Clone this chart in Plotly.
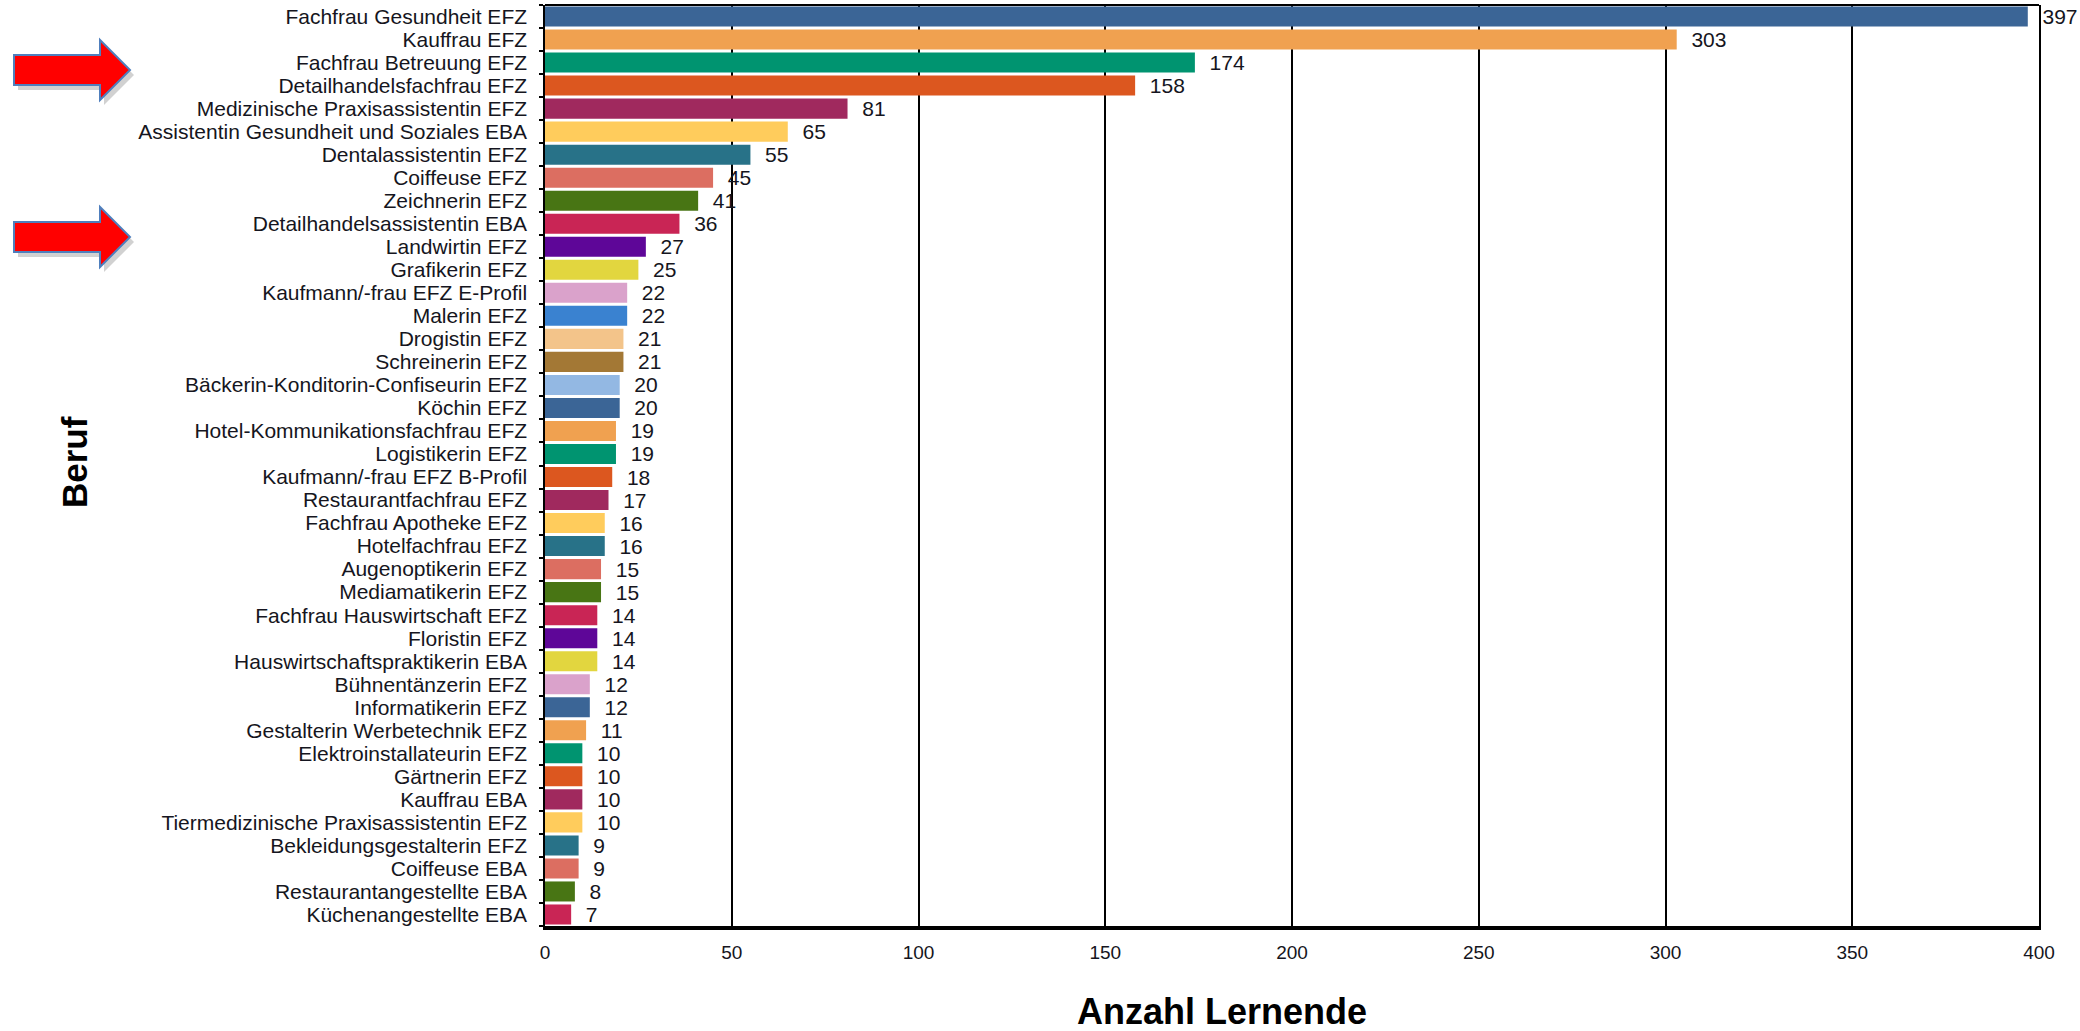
import plotly.graph_objects as go

categories = [
    "Fachfrau Gesundheit EFZ", "Kauffrau EFZ", "Fachfrau Betreuung EFZ",
    "Detailhandelsfachfrau EFZ", "Medizinische Praxisassistentin EFZ",
    "Assistentin Gesundheit und Soziales EBA", "Dentalassistentin EFZ",
    "Coiffeuse EFZ", "Zeichnerin EFZ", "Detailhandelsassistentin EBA",
    "Landwirtin EFZ", "Grafikerin EFZ", "Kaufmann/-frau EFZ E-Profil",
    "Malerin EFZ", "Drogistin EFZ", "Schreinerin EFZ",
    "Bäckerin-Konditorin-Confiseurin EFZ", "Köchin EFZ",
    "Hotel-Kommunikationsfachfrau EFZ", "Logistikerin EFZ",
    "Kaufmann/-frau EFZ B-Profil", "Restaurantfachfrau EFZ",
    "Fachfrau Apotheke EFZ", "Hotelfachfrau EFZ", "Augenoptikerin EFZ",
    "Mediamatikerin EFZ", "Fachfrau Hauswirtschaft EFZ", "Floristin EFZ",
    "Hauswirtschaftspraktikerin EBA", "Bühnentänzerin EFZ",
    "Informatikerin EFZ", "Gestalterin Werbetechnik EFZ",
    "Elektroinstallateurin EFZ", "Gärtnerin EFZ", "Kauffrau EBA",
    "Tiermedizinische Praxisassistentin EFZ", "Bekleidungsgestalterin EFZ",
    "Coiffeuse EBA", "Restaurantangestellte EBA", "Küchenangestellte EBA",
]
values = [397, 303, 174, 158, 81, 65, 55, 45, 41, 36, 27, 25, 22, 22, 21, 21,
          20, 20, 19, 19, 18, 17, 16, 16, 15, 15, 14, 14, 14, 12, 12, 11, 10,
          10, 10, 10, 9, 9, 8, 7]
x_ticks = [0, 50, 100, 150, 200, 250, 300, 350, 400]

palette = ["#3B6596", "#F0A150", "#009470", "#DC571F", "#A0295E", "#FFCC5C",
           "#287288", "#DC6E61", "#487514", "#C92555", "#5E0698", "#E2D63F",
           "#DAA2CB", "#3A82D0", "#F3C48A", "#A37835", "#93B8E3"]
color_idx = list(range(17)) + list(range(13)) + [0] + list(range(1, 10))
bar_colors = [palette[i] for i in color_idx]

W, H = 2080, 1031
L, R, T, B = 545, 41, 5, 105
PW, PH = W - L - R, H - T - B


def px(x):
    return (x - L) / PW


def py(y):
    return (H - B - y) / PH


fig = go.Figure(go.Bar(
    x=values, y=categories, orientation="h",
    marker=dict(color=bar_colors, line=dict(width=0)),
    text=values, texttemplate="\u00a0\u00a0%{x}", textposition="outside",
    textfont=dict(family="Liberation Sans", size=21, color="#151520"),
    constraintext="none", cliponaxis=False,
))

shapes = [dict(type="line", xref="paper", yref="paper", x0=0, x1=1, y0=1, y1=1,
               line=dict(color="black", width=2), layer="above")]


def arrow(cy, dx=0, dy=0, fill="red", line=None):
    pts = [(14, cy - 15), (100, cy - 15), (100, cy - 30), (130, cy), (100, cy + 30),
           (100, cy + 15), (14, cy + 15)]
    path = "M " + " L ".join(f"{px(x + dx):.5f},{py(y + dy):.5f}" for x, y in pts) + " Z"
    return dict(type="path", xref="paper", yref="paper", path=path,
                fillcolor=fill, line=line or dict(width=0), layer="above")


for cy in (70, 237):
    shapes.append(arrow(cy, 4, 5, fill="rgba(0,0,0,0.18)"))
    shapes.append(arrow(cy, fill="#FF0000", line=dict(color="#4F7FBD", width=2)))

annotations = [
    dict(text="<b>Anzahl Lernende</b>", xref="paper", yref="paper",
         x=px(1222), y=py(1011), xanchor="center", yanchor="middle",
         showarrow=False, font=dict(family="Liberation Sans", size=36, color="black")),
    dict(text="<b>Beruf</b>", xref="paper", yref="paper", textangle=-90,
         x=px(74), y=py(462), xanchor="center", yanchor="middle",
         showarrow=False, font=dict(family="Liberation Sans", size=35, color="black")),
]

fig.update_layout(
    width=W, height=H, margin=dict(l=L, r=R, t=T, b=B, autoexpand=False),
    paper_bgcolor="white", plot_bgcolor="white", showlegend=False,
    bargap=0.13, shapes=shapes, annotations=annotations,
    font=dict(family="Liberation Sans", color="#151520"),
    xaxis=dict(range=[0, 400], tickvals=x_ticks, showgrid=True,
               gridcolor="black", gridwidth=1.6, zeroline=False,
               showline=True, linecolor="black", linewidth=4,
               ticks="", ticklabelstandoff=6,
               tickfont=dict(family="Liberation Sans", size=19, color="#151520")),
    yaxis=dict(type="category", categoryorder="array", categoryarray=categories,
               tickmode="array", tickvals=categories, ticktext=categories,
               autorange="reversed", showgrid=False, zeroline=False,
               showline=True, linecolor="black", linewidth=1.5, mirror=True,
               ticks="outside", tickson="boundaries", ticklen=4, tickwidth=2,
               tickcolor="black", ticklabelstandoff=12,
               tickfont=dict(family="Liberation Sans", size=21, color="#151520")),
)

fig.write_html(
    "out.html",
    config={"displayModeBar": False},
    post_script="document.body.style.margin='0';"
                "document.documentElement.style.overflow='hidden';",
)
